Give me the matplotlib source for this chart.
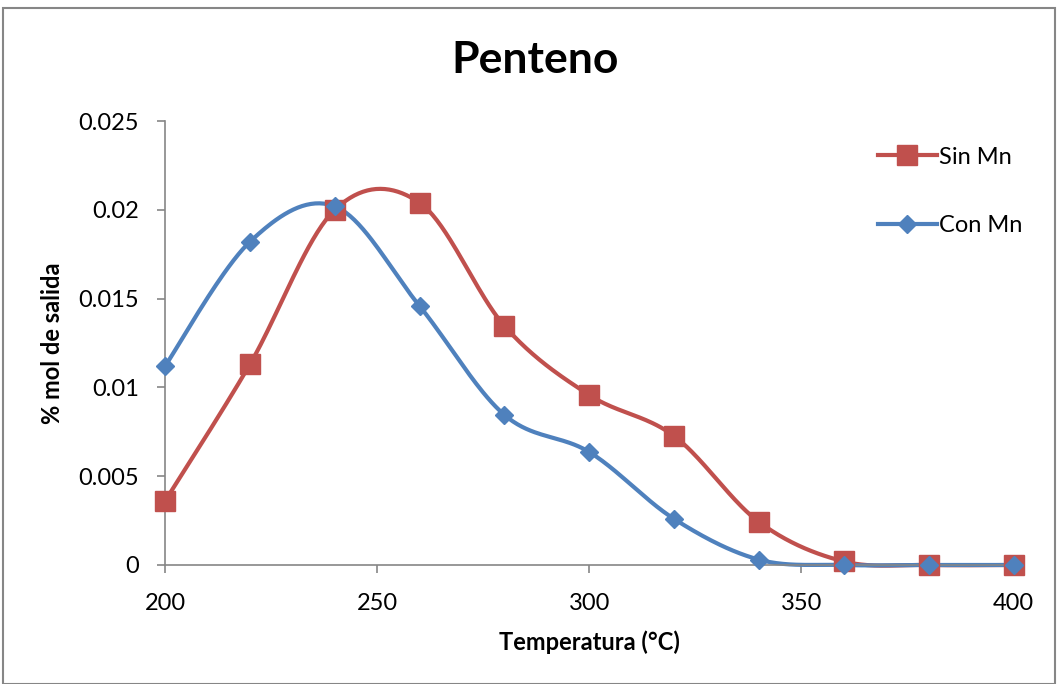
import matplotlib.pyplot as plt
import numpy as np
from matplotlib.patches import Rectangle

plt.rcParams['font.family'] = ['Lato', 'DejaVu Sans']

# data
temp = [200, 220, 240, 260, 280, 300, 320, 340, 360, 380, 400]
sin_mn = [0.0036, 0.0113, 0.0200, 0.0204, 0.01346, 0.00957, 0.00726, 0.00242, 0.0002, 0.0, 0.0]
con_mn = [0.0112, 0.0182, 0.0202, 0.01458, 0.00845, 0.00636, 0.00259, 0.0003, 0.0, 0.0, 0.0]

xlim = (200, 400)
ylim = (0, 0.025)


def smooth(x, y, n=40):
	# excel-like smoothed line (catmull-rom bezier), done in pixel-ish space
	sx, sy = 849.0/(xlim[1]-xlim[0]), 444.0/(ylim[1]-ylim[0])
	p = np.column_stack(((np.array(x)-xlim[0])*sx, np.array(y)*sy))
	pp = np.vstack((p[0], p, p[-1]))
	out = []
	t = np.linspace(0, 1, n)[:, None]
	for i in range(1, len(pp)-2):
		p0, p1, p2, p3 = pp[i-1], pp[i], pp[i+1], pp[i+2]
		c1 = p1 + (p2-p0)/6.0
		c2 = p2 - (p3-p1)/6.0
		b = (1-t)**3*p1 + 3*(1-t)**2*t*c1 + 3*(1-t)*t**2*c2 + t**3*p2
		out.append(b)
	b = np.vstack(out)
	return b[:, 0]/sx+xlim[0], b[:, 1]/sy


fig = plt.figure(figsize=(10.58, 6.84), dpi=100)
ax = fig.add_axes([0.156, 0.174, 0.802, 0.649])

red = '#C0504D'
blue = '#4F81BD'

for yv, col, mk, ms, lab in [(sin_mn, red, 's', 14, 'Sin Mn'), (con_mn, blue, 'D', 9, 'Con Mn')]:
	xs, ys = smooth(temp, yv)
	ax.plot(xs, ys, color=col, lw=3, solid_capstyle='round', zorder=2, clip_on=False)
	ax.plot(temp, yv, ls='none', marker=mk, ms=ms, color=col, zorder=3, clip_on=False)
	ax.plot([], [], color=col, lw=3, marker=mk, ms=ms, label=lab)

ax.set_xlim(xlim)
ax.set_ylim(ylim)
ax.set_xticks([200, 250, 300, 350, 400])
ax.set_yticks([0, 0.005, 0.01, 0.015, 0.02, 0.025])
ax.set_yticklabels(['0', '0.005', '0.01', '0.015', '0.02', '0.025'])
ax.tick_params(labelsize=17, colors='#868686', labelcolor='black', length=6, width=1.2)
ax.tick_params(axis='x', pad=14)
ax.tick_params(axis='y', pad=13)
for s in ['top', 'right']:
	ax.spines[s].set_visible(False)
for s in ['left', 'bottom']:
	ax.spines[s].set_color('#868686')
	ax.spines[s].set_linewidth(1.2)

fig.text(0.506, 0.912, 'Penteno', fontsize=32, fontweight='bold', ha='center', va='center')
ax.set_xlabel('Temperatura (°C)', fontsize=17, fontweight='bold', labelpad=12)
ax.set_ylabel('% mol de salida', fontsize=17, fontweight='bold', labelpad=10)

ax.legend(loc='upper left', bbox_to_anchor=(0.815, 0.99), frameon=False, fontsize=17,
	labelspacing=2.0, handlelength=2.5, handletextpad=0.1)

# chart border
fig.patches.append(Rectangle((0.003, 0.0), 0.994, 0.988, transform=fig.transFigure,
	fill=False, edgecolor='#868686', lw=1.5))

fig.savefig('out.png', dpi=100)
